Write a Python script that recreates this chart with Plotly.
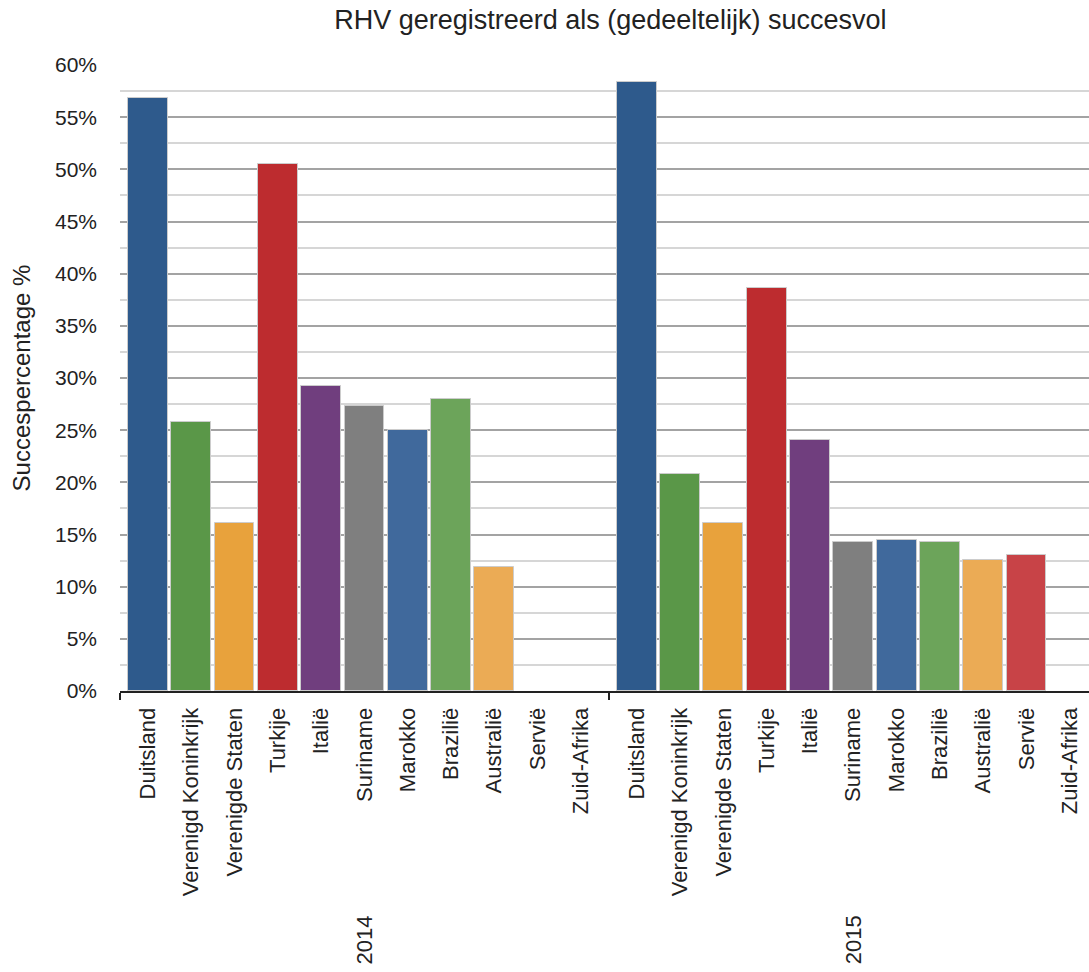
import plotly.graph_objects as go

years = ["2014", "2015"]
countries = ["Duitsland", "Verenigd Koninkrijk", "Verenigde Staten", "Turkije", "Italië",
             "Suriname", "Marokko", "Brazilië", "Australië", "Servië", "Zuid-Afrika"]
values_2014 = [56.8, 25.8, 16.1, 50.5, 29.2, 27.3, 25.0, 28.0, 11.9, None, None]
values_2015 = [58.4, 20.8, 16.1, 38.6, 24.1, 14.3, 14.5, 14.3, 12.6, 13.0, None]
colors = ["#2e5a8c", "#5a9748", "#e8a23c", "#bd2c2f", "#703e7e",
          "#7f7f7f", "#40699c", "#6ca45a", "#ebab55", "#c84347", "#888888"]
title = "RHV geregistreerd als (gedeeltelijk) succesvol"
y_title = "Succespercentage %"

GROUP_STEP = 11.29
PAD = 0.645
FONT = "Liberation Sans, Arial, Helvetica, sans-serif"

fig = go.Figure()
tickvals, ticktext, bounds = [], [], []
for g, (yr, vals) in enumerate(zip(years, [values_2014, values_2015])):
    xs = [g * GROUP_STEP + i for i in range(len(countries))]
    tickvals += xs
    ticktext += countries
    bounds.append(g * GROUP_STEP - PAD)
    fig.add_trace(go.Bar(
        x=xs, y=vals, width=0.92, name=yr,
        marker=dict(color=colors, line=dict(color="#cccccc", width=1)),
        showlegend=False,
    ))
    fig.add_annotation(
        x=g * GROUP_STEP + (len(countries) - 1) / 2, y=0, xref="x", yref="paper",
        text=yr, textangle=-90, showarrow=False, yshift=-249,
        xanchor="center", yanchor="middle",
        font=dict(family=FONT, size=22, color="#222"),
    )
bounds.append(len(years) * GROUP_STEP - PAD)

fig.update_layout(
    width=1089, height=972,
    margin=dict(l=120, r=0, t=65, b=281),
    plot_bgcolor="white", paper_bgcolor="white",
    bargap=0,
    title=dict(text=title, x=0.506, xref="paper", xanchor="center",
               y=1 - 20 / 972, yref="container", yanchor="middle",
               font=dict(family=FONT, size=27, color="#222")),
    font=dict(family=FONT, color="#222"),
)
fig.update_xaxes(
    range=[-PAD, -PAD + 969 / 43.3],
    tickmode="array", tickvals=tickvals, ticktext=ticktext,
    tickangle=-90, ticks="", ticklabelstandoff=6,
    tickfont=dict(family=FONT, size=22, color="#222"),
    showgrid=False, zeroline=False,
    showline=True, linecolor="#222", linewidth=2,
    minor=dict(tickmode="array", tickvals=bounds, ticks="outside",
               ticklen=7, tickwidth=2, tickcolor="#222", showgrid=False),
)
fig.update_yaxes(
    range=[0, 60], dtick=5, tick0=0, ticksuffix="%",
    ticks="", ticklabelstandoff=22,
    tickfont=dict(family=FONT, size=21, color="#222"),
    showgrid=True, gridcolor="#a3a3a3", gridwidth=2,
    minor=dict(dtick=2.5, showgrid=True, gridcolor="#d6d6d6", gridwidth=2),
    zeroline=False, showline=False,
    title=dict(text=y_title, standoff=17,
               font=dict(family=FONT, size=24, color="#222")),
)

fig.write_html("out.html")
